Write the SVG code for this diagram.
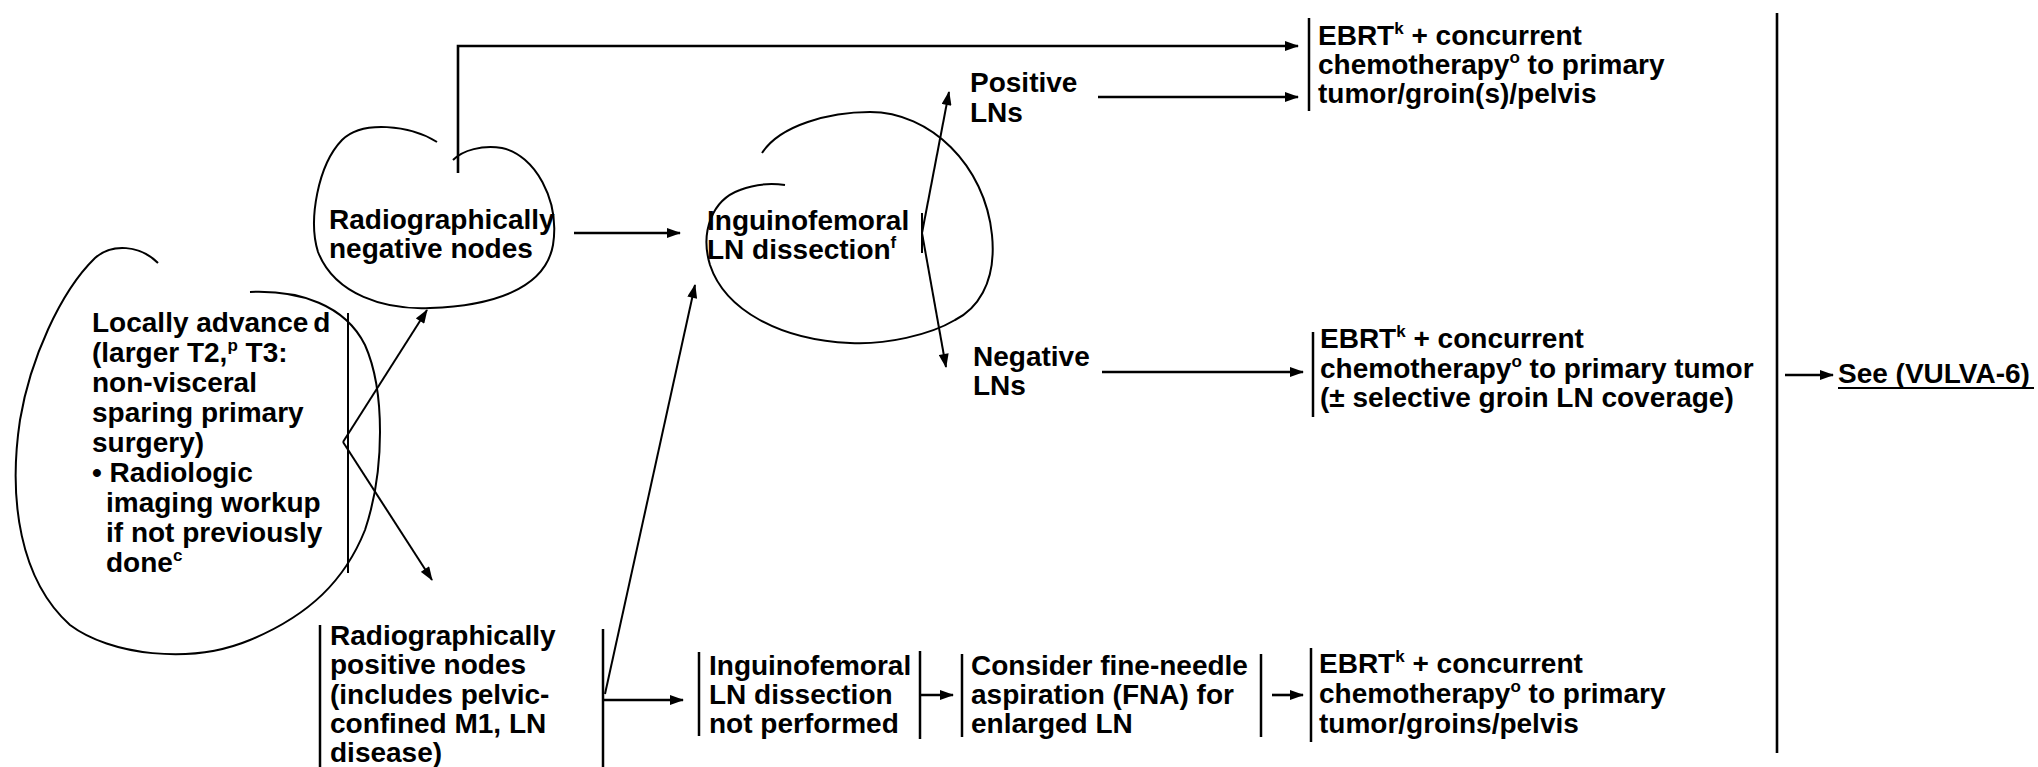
<svg xmlns="http://www.w3.org/2000/svg" width="2038" height="767" viewBox="0 0 2038 767">
<style>
text{font-family:"Liberation Sans",Arial,sans-serif;font-weight:bold;font-size:28px;fill:#000}
.sup{font-size:17px}
.bub{fill:none;stroke:#000;stroke-width:2}
.bar{stroke:#000;stroke-width:2.5;fill:none}
.con{fill:none;stroke:#000;stroke-width:2.6}
.thin{fill:none;stroke:#000;stroke-width:2}
</style>
<defs>
<marker id="ah" viewBox="0 0 14 10" refX="13" refY="5" markerWidth="15" markerHeight="10" markerUnits="userSpaceOnUse" orient="auto">
<path d="M0,0 L14,5 L0,10 z" fill="#000"/>
</marker>
</defs>
<rect width="2038" height="767" fill="#fff"/>

<g id="n-locally">
<path class="bub" d="M158,263 C140,245 112,243 95,258 C60,292 30,360 20,420 C8,500 20,580 70,625 C110,655 190,665 250,640 C310,615 345,580 365,530 C385,470 385,390 365,345 C345,305 300,290 250,292"/>
<line class="thin" x1="348" y1="313" x2="348" y2="573"/>
<text x="92" y="332">Locally advance<tspan dx="5">d</tspan></text>
<text x="92" y="362">(larger T2,<tspan class="sup" dy="-11">p</tspan><tspan dy="11"> T3:</tspan></text>
<text x="92" y="392">non-visceral</text>
<text x="92" y="422">sparing primary</text>
<text x="92" y="452">surgery)</text>
<text x="92" y="482">• Radiologic</text>
<text x="106" y="512">imaging workup</text>
<text x="106" y="542">if not previously</text>
<text x="106" y="572">done<tspan class="sup" dy="-11">c</tspan></text>
</g>

<g id="n-radneg">
<path class="bub" d="M437,142 C410,125 362,120 342,140 C318,165 308,220 318,252 C335,295 385,310 430,308 C490,306 545,290 553,245 C560,200 535,155 502,148 C482,145 463,150 453,160"/>
<text x="329" y="229">Radiographically</text>
<text x="329" y="258">negative nodes</text>
</g>

<g id="n-radpos">
<line class="bar" x1="320" y1="625" x2="320" y2="767"/>
<line class="bar" x1="603" y1="629" x2="603" y2="767"/>
<text x="330" y="645">Radiographically</text>
<text x="330" y="674">positive nodes</text>
<text x="330" y="704">(includes pelvic-</text>
<text x="330" y="733">confined M1, LN</text>
<text x="330" y="762">disease)</text>
</g>

<g id="n-ingdis">
<path class="bub" d="M762,153 C780,125 830,112 870,112 C930,112 985,165 992,235 C997,285 975,310 955,320 C930,335 885,345 850,343 C780,340 725,310 710,265 C700,232 712,200 740,190 C755,184 770,183 785,185"/>
<text x="707" y="230">Inguinofemoral</text>
<text x="707" y="259">LN dissection<tspan class="sup" dy="-11">f</tspan></text>
</g>

<g id="n-poslns">
<text x="970" y="92">Positive</text>
<text x="970" y="122">LNs</text>
</g>

<g id="n-neglns">
<text x="973" y="366">Negative</text>
<text x="973" y="395">LNs</text>
</g>

<g id="n-ebrt1">
<line class="bar" x1="1309" y1="18" x2="1309" y2="111"/>
<text x="1318" y="45">EBRT<tspan class="sup" dy="-11">k</tspan><tspan dy="11"> + concurrent</tspan></text>
<text x="1318" y="74">chemotherapy<tspan class="sup" dy="-11">o</tspan><tspan dy="11"> to primary</tspan></text>
<text x="1318" y="103">tumor/groin(s)/pelvis</text>
</g>

<g id="n-ebrt2">
<line class="bar" x1="1313" y1="332" x2="1313" y2="417"/>
<text x="1320" y="348">EBRT<tspan class="sup" dy="-11">k</tspan><tspan dy="11"> + concurrent</tspan></text>
<text x="1320" y="378">chemotherapy<tspan class="sup" dy="-11">o</tspan><tspan dy="11"> to primary tumor</tspan></text>
<text x="1320" y="407">(± selective groin LN coverage)</text>
</g>

<g id="n-notperf">
<line class="bar" x1="699" y1="652" x2="699" y2="736"/>
<line class="bar" x1="920" y1="651" x2="920" y2="739"/>
<text x="709" y="675">Inguinofemoral</text>
<text x="709" y="704">LN dissection</text>
<text x="709" y="733">not performed</text>
</g>

<g id="n-fna">
<line class="bar" x1="962" y1="654" x2="962" y2="737"/>
<line class="bar" x1="1261" y1="654" x2="1261" y2="737"/>
<text x="971" y="675">Consider fine-needle</text>
<text x="971" y="704">aspiration (FNA) for</text>
<text x="971" y="733">enlarged LN</text>
</g>

<g id="n-ebrt3">
<line class="bar" x1="1311" y1="648" x2="1311" y2="742"/>
<text x="1319" y="673">EBRT<tspan class="sup" dy="-11">k</tspan><tspan dy="11"> + concurrent</tspan></text>
<text x="1319" y="703">chemotherapy<tspan class="sup" dy="-11">o</tspan><tspan dy="11"> to primary</tspan></text>
<text x="1319" y="733">tumor/groins/pelvis</text>
</g>

<g id="n-see">
<text x="1838" y="383">See (VULVA-6)</text>
<line x1="1838" y1="388" x2="2034" y2="388" stroke="#000" stroke-width="2"/>
</g>

<g id="connectors">
<path class="con" d="M458,173 V46 H1298" marker-end="url(#ah)"/>
<path class="con" d="M574,233 H680" marker-end="url(#ah)"/>
<path class="thin" d="M343,442 L427,310" marker-end="url(#ah)"/>
<path class="thin" d="M343,442 L432,580" marker-end="url(#ah)"/>
<path class="thin" d="M605,694 L695,285" marker-end="url(#ah)"/>
<path class="con" d="M603,700 H683" marker-end="url(#ah)"/>
<path class="thin" d="M922,213 V253"/>
<path class="thin" d="M922,233 L949,92" marker-end="url(#ah)"/>
<path class="thin" d="M922,233 L946,367" marker-end="url(#ah)"/>
<path class="con" d="M1098,97 H1298" marker-end="url(#ah)"/>
<path class="con" d="M1102,372 H1303" marker-end="url(#ah)"/>
<path class="con" d="M920,695 H953" marker-end="url(#ah)"/>
<path class="con" d="M1272,695 H1303" marker-end="url(#ah)"/>
<path class="con" d="M1777,13 V753" stroke-width="3"/>
<path class="con" d="M1785,375 H1833" marker-end="url(#ah)"/>
</g>
</svg>
